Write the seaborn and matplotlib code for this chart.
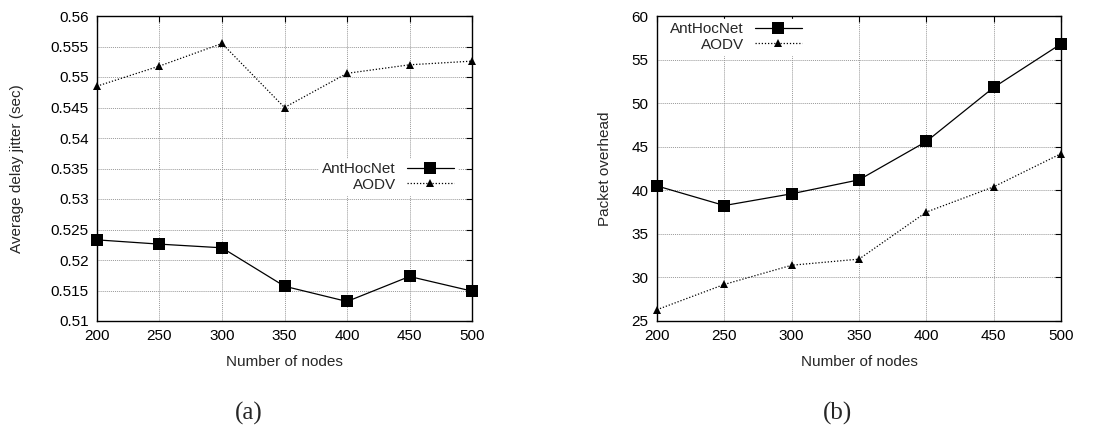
import matplotlib
matplotlib.use("Agg")
import matplotlib.pyplot as plt
import seaborn as sns
import pandas as pd

nodes = [200, 250, 300, 350, 400, 450, 500]
jitter_anthocnet = [0.5233, 0.5226, 0.5220, 0.5157, 0.5132, 0.5173, 0.5149]
jitter_aodv = [0.5485, 0.5518, 0.5555, 0.5450, 0.5506, 0.5520, 0.5526]
overhead_anthocnet = [40.5, 38.25, 39.6, 41.2, 45.6, 51.8, 56.8]
overhead_aodv = [26.3, 29.2, 31.4, 32.1, 37.5, 40.4, 44.2]
series_names = ["AntHocNet", "AODV"]
jitter_yticks = [0.51, 0.515, 0.52, 0.525, 0.53, 0.535, 0.54, 0.545, 0.55, 0.555, 0.56]
jitter_ylabels = ["0.51", "0.515", "0.52", "0.525", "0.53", "0.535", "0.54", "0.545", "0.55", "0.555", "0.56"]
overhead_yticks = [25, 30, 35, 40, 45, 50, 55, 60]

sns.set_theme(style="white")
plt.rcParams['font.family'] = ['Liberation Sans', 'DejaVu Sans']

def long_df(a, b):
    return pd.DataFrame({
        "nodes": nodes + nodes,
        "value": a + b,
        "series": [series_names[0]] * len(nodes) + [series_names[1]] * len(nodes),
    })

W, H = 1115, 425
fig = plt.figure(figsize=(11.15, 4.25), dpi=100)
ax1 = fig.add_axes([97/W, 1-321/H, (472-97)/W, (321-16)/H])
ax2 = fig.add_axes([657/W, 1-321/H, (1061-657)/W, (321-16)/H])

markers = {"AntHocNet": "s", "AODV": "^"}
dashes = {"AntHocNet": "", "AODV": (1, 1.5)}
palette = {"AntHocNet": "black", "AODV": "black"}

def draw(ax, df, yticks, ylim, ylabel, legend_anchor, ylabel_x, ylabels=None):
    sns.lineplot(data=df, x="nodes", y="value", hue="series", style="series",
                 markers=markers, dashes=dashes, palette=palette, ax=ax,
                 linewidth=0.9, markeredgewidth=0, legend=False)
    for line in ax.get_lines():
        line.set_clip_on(False)
        line.set_zorder(5)
        if line.get_marker() == "s":
            line.set_markersize(8)
        elif line.get_marker() == "^":
            line.set_markersize(5.5)
    ax.set_xlim(200, 500)
    ax.set_ylim(*ylim)
    ax.set_xticks(nodes)
    ax.set_yticks(yticks)
    if ylabels is not None:
        ax.set_yticklabels(ylabels)
    ax.grid(True, color="#999999", linestyle=(0, (1, 1)), linewidth=0.7)
    ax.set_axisbelow(True)
    for s in ax.spines.values():
        s.set_color("black")
        s.set_linewidth(1.0)
    ax.tick_params(direction="in", length=4, width=0.8, top=True, right=True,
                   labelsize=11, colors="black", pad=6)
    ax.set_xlabel("Number of nodes", fontsize=11)
    ax.set_ylabel(ylabel, fontsize=11)
    ax.xaxis.set_label_coords(0.5, (321-355)/305)
    ax.yaxis.set_label_coords(ylabel_x, 0.5)
    handles = ax.get_lines()[:2]
    leg = ax.legend(handles, series_names, loc="upper right", bbox_to_anchor=legend_anchor,
                    bbox_transform=fig.transFigure, markerfirst=False, frameon=True,
                    fontsize=11, handlelength=3.1, handletextpad=0.7,
                    labelspacing=0.1, borderpad=0.2, borderaxespad=0)
    leg.get_frame().set_facecolor("white")
    leg.get_frame().set_edgecolor("white")
    leg.get_frame().set_alpha(1)
    leg.get_frame().set_boxstyle("square", pad=0)
    leg.set_zorder(10)

draw(ax1, long_df(jitter_anthocnet, jitter_aodv), jitter_yticks, (0.51, 0.56),
     "Average delay jitter (sec)", (457/W, 1-159/H), (24-97)/375, jitter_ylabels)
draw(ax2, long_df(overhead_anthocnet, overhead_aodv), overhead_yticks, (25, 60),
     "Packet overhead", (805/W, 1-19/H), (612-657)/404)

fig.text(249/W, 1-413/H, "(a)", ha="center", va="center",
         fontsize=18, family=["Liberation Serif", "DejaVu Serif"])
fig.text(838/W, 1-413/H, "(b)", ha="center", va="center",
         fontsize=18, family=["Liberation Serif", "DejaVu Serif"])

fig.savefig("out.png", dpi=100)
